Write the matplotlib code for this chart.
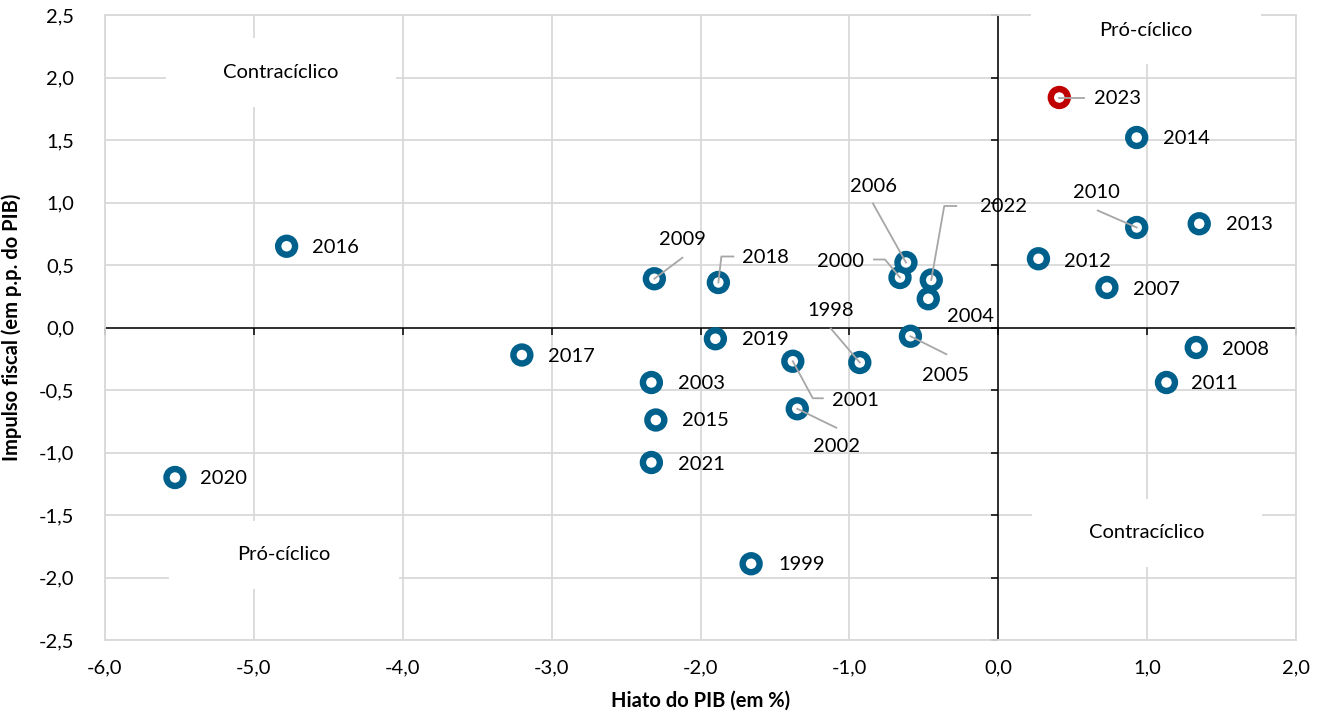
import matplotlib
matplotlib.use("Agg")
import matplotlib.pyplot as plt
from matplotlib.patches import Rectangle
from matplotlib.lines import TICKLEFT, TICKDOWN
import numpy as np

plt.rcParams['font.family'] = ['Lato', 'DejaVu Sans']

# dados: hiato do PIB (x) e impulso fiscal (y)
anos = ['1998', '1999', '2000', '2001', '2002', '2003', '2004', '2005', '2006',
        '2007', '2008', '2009', '2010', '2011', '2012', '2013', '2014', '2015',
        '2016', '2017', '2018', '2019', '2020', '2021', '2022', '2023']
hiato = [-0.93, -1.66, -0.66, -1.38, -1.35, -2.33, -0.47, -0.59, -0.62,
         0.73, 1.33, -2.31, 0.93, 1.13, 0.27, 1.35, 0.93, -2.30,
         -4.78, -3.20, -1.88, -1.90, -5.53, -2.33, -0.45, 0.41]
impulso = [-0.28, -1.89, 0.40, -0.27, -0.65, -0.44, 0.23, -0.07, 0.52,
           0.32, -0.16, 0.39, 0.80, -0.44, 0.55, 0.83, 1.52, -0.74,
           0.65, -0.22, 0.36, -0.09, -1.20, -1.08, 0.38, 1.84]
destaque = '2023'

x_ticks = np.arange(-6, 2.01, 1.0)
y_ticks = np.arange(-2.5, 2.51, 0.5)

# posicao dos rotulos (deslocamento em pixels, y para baixo) e linhas-guia
rotulo_off = {
    '2023': (58, 1), '2014': (50, 1), '2010': (-40, -35), '2013': (50, 1),
    '2012': (49, 3), '2007': (50, 2), '2008': (49, 2), '2011': (48, 1),
    '2016': (49, 1), '2020': (49, 1), '2017': (50, 1), '2009': (28, -39),
    '2018': (47, -25), '2019': (50, 1), '2003': (50, 1), '2015': (50, 1),
    '2021': (50, 2), '1999': (50, 1), '2001': (63, 39), '2002': (39, 38),
    '1998': (-29, -52), '2005': (35, 39), '2004': (42, 18), '2022': (72, -73),
    '2006': (-32, -76), '2000': (-59, -16),
}
guias = {
    '2023': [(25, 0)],
    '2010': [(-39, -17)],
    '2009': [(28, -21)],
    '2018': [(3, -26), (15, -26)],
    '2001': [(20, 37), (30, 37)],
    '2002': [(39, 19)],
    '1998': [(-29, -34)],
    '2005': [(36, 18)],
    '2006': [(-33, -59)],
    '2000': [(-15, -18), (-26, -18)],
    '2022': [(13, -74), (25, -74)],
}

quadrantes = [('Contracíclico', -4.82, 2.04), ('Pró-cíclico', 0.99, 2.38),
              ('Pró-cíclico', -4.80, -1.82), ('Contracíclico', 1.00, -1.64)]

W, H = 1324, 725
fig = plt.figure(figsize=(W / 100, H / 100), dpi=100)
L, T, R, B = 105, 15, 1296, 640
ax = fig.add_axes([L / W, 1 - B / H, (R - L) / W, (B - T) / H])
ax.set_xlim(-6, 2)
ax.set_ylim(-2.5, 2.5)

grid_c = '#D9D9D9'
ax.set_xticks(x_ticks)
ax.set_yticks(y_ticks)
ax.set_xticklabels([f'{v:.1f}'.replace('.', ',') for v in x_ticks])
ax.set_yticklabels([f'{v:.1f}'.replace('.', ',') for v in y_ticks])
ax.tick_params(length=0, labelsize=14.5, pad=14)
ax.tick_params(axis='y', pad=22)
ax.grid(True, color=grid_c, lw=1.3, zorder=0)
ax.set_axisbelow(True)
for s in ax.spines.values():
    s.set_color(grid_c)
    s.set_linewidth(1.3)

# eixos em zero com marcas
ax.axhline(0, color='black', lw=1.1, zorder=2)
ax.axvline(0, color='black', lw=1.1, zorder=2)
ax.plot(x_ticks, np.zeros_like(x_ticks), ls='none', marker=TICKDOWN,
        ms=5, mew=1.1, color='black', zorder=2, clip_on=False)
ax.plot(np.zeros_like(y_ticks), y_ticks, ls='none', marker=TICKLEFT,
        ms=5, mew=1.1, color='black', zorder=2, clip_on=False)

# caixas brancas dos quadrantes
sx = (R - L) / 8.0
sy = (B - T) / 5.0
bw, bh = 230 / sx, 68 / sy
for txt, qx, qy in quadrantes:
    ax.add_patch(Rectangle((qx - bw / 2, qy - bh / 2), bw, bh, facecolor='white',
                           edgecolor='none', zorder=2.7, clip_on=False))
    ax.text(qx, qy, txt, ha='center', va='center', fontsize=14.5, zorder=2.8)

azul = '#00608C'
verm = '#C00000'
cores = [verm if a == destaque else azul for a in anos]
ax.scatter(hiato, impulso, s=12.2 ** 2, facecolor='white', edgecolor=cores,
           linewidths=4.6, zorder=4)

for a, x, y in zip(anos, hiato, impulso):
    if a in guias:
        xs, ys = [x], [y]
        for dx, dy in guias[a]:
            xs.append(x + dx / sx)
            ys.append(y - dy / sy)
        ax.plot(xs, ys, color='#A6A6A6', lw=1.3, zorder=5)
    dx, dy = rotulo_off[a]
    ax.annotate(a, (x, y), xytext=(dx, -dy), textcoords='offset pixels',
                ha='center', va='center', fontsize=14.5, zorder=6)

ax.set_xlabel('Hiato do PIB (em %)', fontsize=14.5, fontweight='bold', labelpad=10)
ax.set_ylabel('Impulso fiscal (em p.p. do PIB)', fontsize=14.5, fontweight='bold',
              labelpad=12)

fig.savefig('out.png', dpi=100, facecolor='white')
